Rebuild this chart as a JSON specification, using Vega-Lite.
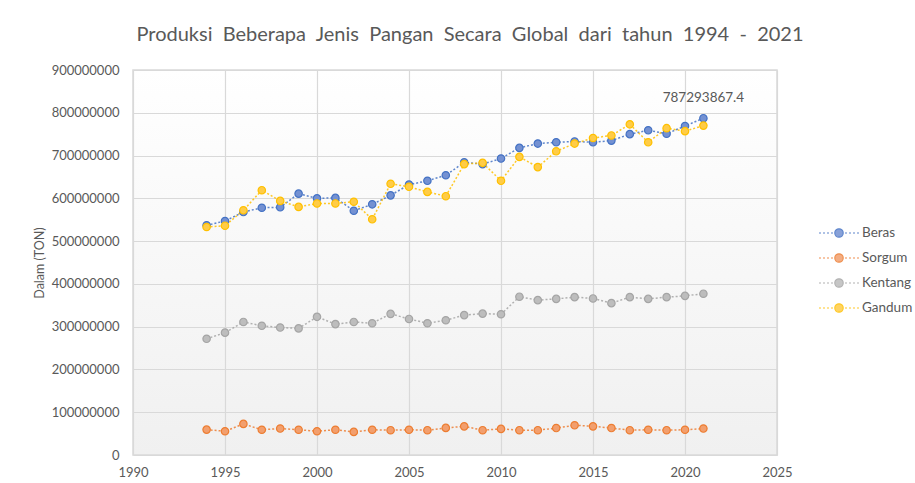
{
  "$schema": "https://vega.github.io/schema/vega-lite/v6.json",
  "width": 644,
  "height": 385,
  "autosize": {"type": "none"},
  "padding": {"left": 133, "top": 70, "right": 138, "bottom": 28},
  "background": "white",
  "title": {
    "text": "Produksi\u00a0 Beberapa\u00a0 Jenis\u00a0 Pangan\u00a0 Secara\u00a0 Global\u00a0 dari\u00a0 tahun\u00a0 1994\u00a0 -\u00a0 2021",
    "font": "Lato",
    "fontSize": 20,
    "fontWeight": "normal",
    "color": "#595959",
    "anchor": "middle",
    "offset": 19,
    "dx": 15
  },
  "data": {
    "values": [
      {"year": 1994, "series": "Beras", "value": 537000000},
      {"year": 1995, "series": "Beras", "value": 547000000},
      {"year": 1996, "series": "Beras", "value": 568000000},
      {"year": 1997, "series": "Beras", "value": 578000000},
      {"year": 1998, "series": "Beras", "value": 579000000},
      {"year": 1999, "series": "Beras", "value": 611000000},
      {"year": 2000, "series": "Beras", "value": 600000000},
      {"year": 2001, "series": "Beras", "value": 601000000},
      {"year": 2002, "series": "Beras", "value": 571000000},
      {"year": 2003, "series": "Beras", "value": 586000000},
      {"year": 2004, "series": "Beras", "value": 607000000},
      {"year": 2005, "series": "Beras", "value": 632000000},
      {"year": 2006, "series": "Beras", "value": 641000000},
      {"year": 2007, "series": "Beras", "value": 654000000},
      {"year": 2008, "series": "Beras", "value": 684000000},
      {"year": 2009, "series": "Beras", "value": 680000000},
      {"year": 2010, "series": "Beras", "value": 693000000},
      {"year": 2011, "series": "Beras", "value": 718000000},
      {"year": 2012, "series": "Beras", "value": 728000000},
      {"year": 2013, "series": "Beras", "value": 731000000},
      {"year": 2014, "series": "Beras", "value": 733000000},
      {"year": 2015, "series": "Beras", "value": 731000000},
      {"year": 2016, "series": "Beras", "value": 735000000},
      {"year": 2017, "series": "Beras", "value": 750000000},
      {"year": 2018, "series": "Beras", "value": 759000000},
      {"year": 2019, "series": "Beras", "value": 751000000},
      {"year": 2020, "series": "Beras", "value": 769000000},
      {"year": 2021, "series": "Beras", "value": 787293867.4},
      {"year": 1994, "series": "Sorgum", "value": 59400000},
      {"year": 1995, "series": "Sorgum", "value": 55500000},
      {"year": 1996, "series": "Sorgum", "value": 72700000},
      {"year": 1997, "series": "Sorgum", "value": 59000000},
      {"year": 1998, "series": "Sorgum", "value": 61800000},
      {"year": 1999, "series": "Sorgum", "value": 59000000},
      {"year": 2000, "series": "Sorgum", "value": 55500000},
      {"year": 2001, "series": "Sorgum", "value": 59000000},
      {"year": 2002, "series": "Sorgum", "value": 54000000},
      {"year": 2003, "series": "Sorgum", "value": 59000000},
      {"year": 2004, "series": "Sorgum", "value": 58000000},
      {"year": 2005, "series": "Sorgum", "value": 59000000},
      {"year": 2006, "series": "Sorgum", "value": 58000000},
      {"year": 2007, "series": "Sorgum", "value": 63400000},
      {"year": 2008, "series": "Sorgum", "value": 67000000},
      {"year": 2009, "series": "Sorgum", "value": 58000000},
      {"year": 2010, "series": "Sorgum", "value": 61000000},
      {"year": 2011, "series": "Sorgum", "value": 58000000},
      {"year": 2012, "series": "Sorgum", "value": 58000000},
      {"year": 2013, "series": "Sorgum", "value": 63000000},
      {"year": 2014, "series": "Sorgum", "value": 69500000},
      {"year": 2015, "series": "Sorgum", "value": 67000000},
      {"year": 2016, "series": "Sorgum", "value": 63000000},
      {"year": 2017, "series": "Sorgum", "value": 58000000},
      {"year": 2018, "series": "Sorgum", "value": 59000000},
      {"year": 2019, "series": "Sorgum", "value": 58000000},
      {"year": 2020, "series": "Sorgum", "value": 59000000},
      {"year": 2021, "series": "Sorgum", "value": 61800000},
      {"year": 1994, "series": "Kentang", "value": 271600000},
      {"year": 1995, "series": "Kentang", "value": 286000000},
      {"year": 1996, "series": "Kentang", "value": 311000000},
      {"year": 1997, "series": "Kentang", "value": 302000000},
      {"year": 1998, "series": "Kentang", "value": 298000000},
      {"year": 1999, "series": "Kentang", "value": 296000000},
      {"year": 2000, "series": "Kentang", "value": 323000000},
      {"year": 2001, "series": "Kentang", "value": 306000000},
      {"year": 2002, "series": "Kentang", "value": 311000000},
      {"year": 2003, "series": "Kentang", "value": 308000000},
      {"year": 2004, "series": "Kentang", "value": 330000000},
      {"year": 2005, "series": "Kentang", "value": 318000000},
      {"year": 2006, "series": "Kentang", "value": 308000000},
      {"year": 2007, "series": "Kentang", "value": 315000000},
      {"year": 2008, "series": "Kentang", "value": 327000000},
      {"year": 2009, "series": "Kentang", "value": 330500000},
      {"year": 2010, "series": "Kentang", "value": 329000000},
      {"year": 2011, "series": "Kentang", "value": 370000000},
      {"year": 2012, "series": "Kentang", "value": 362000000},
      {"year": 2013, "series": "Kentang", "value": 365000000},
      {"year": 2014, "series": "Kentang", "value": 369000000},
      {"year": 2015, "series": "Kentang", "value": 366000000},
      {"year": 2016, "series": "Kentang", "value": 355000000},
      {"year": 2017, "series": "Kentang", "value": 369000000},
      {"year": 2018, "series": "Kentang", "value": 365000000},
      {"year": 2019, "series": "Kentang", "value": 369000000},
      {"year": 2020, "series": "Kentang", "value": 372000000},
      {"year": 2021, "series": "Kentang", "value": 377000000},
      {"year": 1994, "series": "Gandum", "value": 533000000},
      {"year": 1995, "series": "Gandum", "value": 536000000},
      {"year": 1996, "series": "Gandum", "value": 572000000},
      {"year": 1997, "series": "Gandum", "value": 619000000},
      {"year": 1998, "series": "Gandum", "value": 594000000},
      {"year": 1999, "series": "Gandum", "value": 580000000},
      {"year": 2000, "series": "Gandum", "value": 588000000},
      {"year": 2001, "series": "Gandum", "value": 588000000},
      {"year": 2002, "series": "Gandum", "value": 592000000},
      {"year": 2003, "series": "Gandum", "value": 551000000},
      {"year": 2004, "series": "Gandum", "value": 634000000},
      {"year": 2005, "series": "Gandum", "value": 627000000},
      {"year": 2006, "series": "Gandum", "value": 615000000},
      {"year": 2007, "series": "Gandum", "value": 605000000},
      {"year": 2008, "series": "Gandum", "value": 680000000},
      {"year": 2009, "series": "Gandum", "value": 683000000},
      {"year": 2010, "series": "Gandum", "value": 641000000},
      {"year": 2011, "series": "Gandum", "value": 697000000},
      {"year": 2012, "series": "Gandum", "value": 673000000},
      {"year": 2013, "series": "Gandum", "value": 710000000},
      {"year": 2014, "series": "Gandum", "value": 728000000},
      {"year": 2015, "series": "Gandum", "value": 741000000},
      {"year": 2016, "series": "Gandum", "value": 747000000},
      {"year": 2017, "series": "Gandum", "value": 773000000},
      {"year": 2018, "series": "Gandum", "value": 731000000},
      {"year": 2019, "series": "Gandum", "value": 764000000},
      {"year": 2020, "series": "Gandum", "value": 757000000},
      {"year": 2021, "series": "Gandum", "value": 770000000}
    ]
  },
  "encoding": {
    "x": {
      "field": "year",
      "type": "quantitative",
      "scale": {"domain": [1990, 2025], "nice": false, "zero": false},
      "axis": {"values": [1990, 1995, 2000, 2005, 2010, 2015, 2020, 2025], "format": "d", "title": null}
    },
    "y": {
      "field": "value",
      "type": "quantitative",
      "scale": {"domain": [0, 900000000], "nice": false},
      "axis": {
        "values": [0, 100000000, 200000000, 300000000, 400000000, 500000000, 600000000, 700000000, 800000000, 900000000],
        "format": "d",
        "title": "Dalam (TON)"
      }
    }
  },
  "layer": [
    {
      "mark": {"type": "line", "strokeDash": [2, 2], "strokeWidth": 1.5, "opacity": 0.85},
      "encoding": {
        "stroke": {
          "field": "series",
          "type": "nominal",
          "title": null,
          "scale": {"domain": ["Beras", "Sorgum", "Kentang", "Gandum"], "range": ["#4472C4", "#ED7D31", "#A5A5A5", "#FFC000"]}
        }
      }
    },
    {
      "mark": {"type": "point", "filled": true, "size": 55, "strokeWidth": 1.2, "opacity": 1},
      "encoding": {
        "fill": {
          "field": "series",
          "type": "nominal",
          "title": null,
          "scale": {"domain": ["Beras", "Sorgum", "Kentang", "Gandum"], "range": ["#7491D2", "#F29F6E", "#BDBDBD", "#FFCC47"]}
        },
        "stroke": {"field": "series", "type": "nominal", "title": null}
      }
    },
    {
      "transform": [{"filter": "datum.series === 'Beras' && datum.year === 2021"}],
      "mark": {"type": "text", "dy": -20, "font": "Lato", "fontSize": 13.5, "color": "#595959"},
      "encoding": {
        "text": {"field": "value", "type": "quantitative", "format": ".1f"}
      }
    }
  ],
  "config": {
    "font": "Lato",
    "view": {
      "stroke": "#d9d9d9",
      "strokeWidth": 1.5,
      "fill": {"gradient": "linear", "x1": 0, "y1": 0, "x2": 0, "y2": 1, "stops": [{"offset": 0, "color": "#ffffff"}, {"offset": 1, "color": "#f0f0f0"}]}
    },
    "axis": {
      "labelFont": "Lato",
      "labelFontSize": 13,
      "labelColor": "#595959",
      "titleFont": "Lato",
      "titleFontSize": 12.5,
      "titleFontWeight": "normal",
      "titleColor": "#595959",
      "gridColor": "#d9d9d9",
      "gridWidth": 1.2,
      "ticks": false,
      "domain": false
    },
    "axisX": {"labelPadding": 11, "labelFlush": false},
    "axisY": {"labelPadding": 14, "titlePadding": 5},
    "legend": {
      "orient": "none",
      "legendX": 695,
      "legendY": 152,
      "padding": 0,
      "symbolType": "M-2,0h0.2M-1.6,0h0.2M-1.2,0h0.2M-0.8,0h0.2M0.6,0h0.2M1.0,0h0.2M1.4,0h0.2M1.8,0h0.2M0.42,0A0.42,0.42,0,1,1,-0.42,0A0.42,0.42,0,1,1,0.42,0Z",
      "symbolSize": 400,
      "symbolStrokeWidth": 1.2,
      "labelOffset": 12,
      "rowPadding": 7,
      "labelFont": "Lato",
      "labelFontSize": 13.5,
      "labelColor": "#595959"
    }
  }
}
